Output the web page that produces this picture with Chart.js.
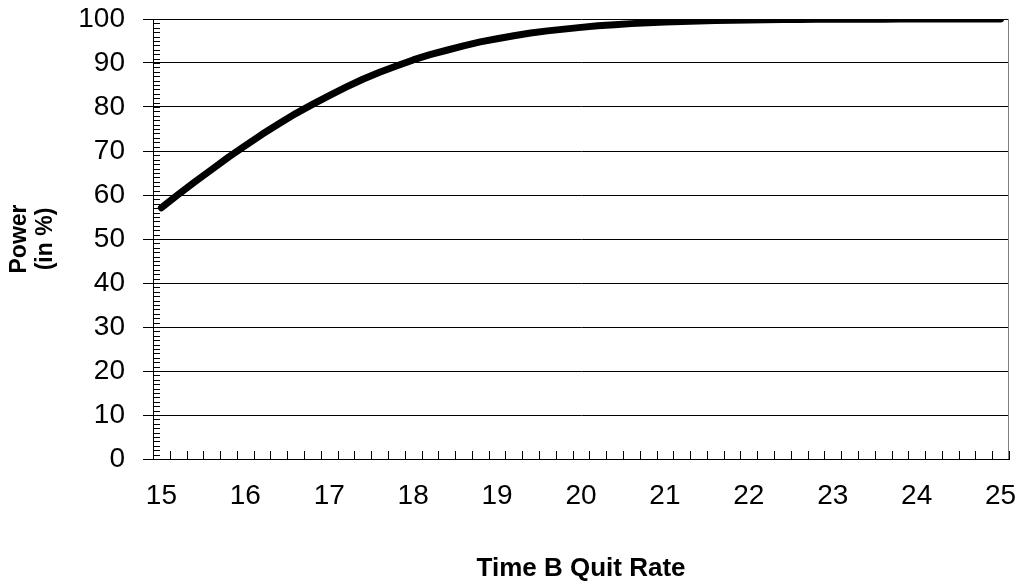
<!DOCTYPE html>
<html>
<head>
<meta charset="utf-8">
<script src="https://cdn.jsdelivr.net/npm/chart.js@4.4.1/dist/chart.umd.min.js"></script>
<style>
  html, body { margin: 0; padding: 0; background: #ffffff; }
  #wrap { width: 1023px; height: 586px; }
</style>
</head>
<body>
<div id="wrap"><canvas id="c" width="1023" height="586"></canvas></div>
<script>
// ---- data ----
const quitRates = [
  15.0, 15.2, 15.4, 15.6, 15.8, 16.0, 16.2, 16.4, 16.6, 16.8,
  17.0, 17.2, 17.4, 17.6, 17.8, 18.0, 18.2, 18.4, 18.6, 18.8,
  19.0, 19.2, 19.4, 19.6, 19.8, 20.0, 20.2, 20.4, 20.6, 20.8,
  21.0, 21.2, 21.4, 21.6, 21.8, 22.0, 22.2, 22.4, 22.6, 22.8,
  23.0, 23.2, 23.4, 23.6, 23.8, 24.0, 24.2, 24.4, 24.6, 24.8, 25.0
];
const powerValues = [
  57.1, 60.1, 63.0, 65.8, 68.6, 71.2, 73.8, 76.2, 78.5, 80.6,
  82.6, 84.5, 86.3, 87.9, 89.3, 90.7, 91.9, 92.9, 93.9, 94.8,
  95.5, 96.2, 96.8, 97.3, 97.7, 98.1, 98.45, 98.7, 98.95, 99.14,
  99.3, 99.44, 99.55, 99.64, 99.71, 99.77, 99.82, 99.86, 99.89, 99.92,
  99.94, 99.95, 99.96, 99.97, 99.98, 99.98, 99.99, 99.99, 99.99, 99.99, 100.0
];
const xTickLabels = ["15", "16", "17", "18", "19", "20", "21", "22", "23", "24", "25"];
const yTickValues = [0, 10, 20, 30, 40, 50, 60, 70, 80, 90, 100];
const xTitle = "Time B Quit Rate";
const yTitle = ["Power", "(in %)"];

const FONT = "'Liberation Sans', Arial, sans-serif";

// minor tick marks + right border, drawn through the scales
const minorTicks = {
  id: 'minorTicks',
  beforeDatasetsDraw(chart) {
    const ctx = chart.ctx;
    const xs = chart.scales.x;
    const ys = chart.scales.y;
    const area = chart.chartArea;
    ctx.save();
    ctx.strokeStyle = '#000000';
    ctx.lineWidth = 1;
    ctx.beginPath();
    for (let v = ys.min; v <= ys.max; v += 1) {
      const py = Math.round(ys.getPixelForValue(v)) + 0.5;
      ctx.moveTo(area.left, py);
      ctx.lineTo(area.left + 7, py);
    }
    const n = quitRates.length;
    for (let i = 0; i <= n; i++) {
      const px = Math.round(xs.getPixelForValue(i - 0.5)) + 0.5;
      ctx.moveTo(px, area.bottom);
      ctx.lineTo(px, area.bottom - 8);
    }
    ctx.stroke();
    ctx.strokeStyle = '#808080';
    ctx.beginPath();
    const rx = Math.round(area.right) - 0.5;
    ctx.moveTo(rx, area.top);
    ctx.lineTo(rx, area.bottom);
    ctx.stroke();
    ctx.restore();
  }
};

new Chart(document.getElementById('c'), {
  type: 'line',
  data: {
    labels: quitRates.map(v => v.toFixed(1)),
    datasets: [{
      data: powerValues,
      borderColor: '#000000',
      borderWidth: 7,
      borderCapStyle: 'round',
      borderJoinStyle: 'round',
      pointRadius: 0,
      tension: 0,
      fill: false
    }]
  },
  options: {
    responsive: false,
    animation: false,
    devicePixelRatio: 1,
    layout: { padding: { top: 19, right: 14, left: 0, bottom: 0 } },
    plugins: { legend: { display: false }, tooltip: { enabled: false } },
    scales: {
      x: {
        type: 'category',
        offset: true,
        grid: { display: true, drawOnChartArea: false, drawTicks: false, offset: true },
        border: { display: true, color: '#000000', width: 1 },
        ticks: {
          autoSkip: false,
          maxRotation: 0,
          minRotation: 0,
          padding: 20,
          color: '#000000',
          font: { family: FONT, size: 28 },
          callback: function (val, idx) {
            const v = quitRates[idx];
            const lab = String(Math.round(v));
            return (Math.abs(v - Math.round(v)) < 1e-6 && xTickLabels.includes(lab)) ? lab : '';
          }
        },
        title: {
          display: true,
          text: xTitle,
          color: '#000000',
          font: { family: FONT, size: 26, weight: 'bold', lineHeight: 1.15 },
          padding: { top: 0, bottom: 2 }
        },
        afterFit(scale) {
          scale.height = 127;
          scale.paddingLeft = 0;
          scale.paddingRight = 0;
        }
      },
      y: {
        type: 'linear',
        min: 0,
        max: 100,
        afterBuildTicks(scale) { scale.ticks = yTickValues.map(v => ({ value: v })); },
        grid: { color: '#000000', lineWidth: 1, drawTicks: true, tickLength: 10, tickColor: '#000000' },
        border: { display: true, color: '#000000', width: 1 },
        ticks: {
          padding: 18,
          color: '#000000',
          font: { family: FONT, size: 28 }
        },
        title: {
          display: true,
          text: yTitle,
          color: '#000000',
          font: { family: FONT, size: 23, weight: 'bold', lineHeight: 1.15 },
          padding: { top: 6, bottom: 0 }
        },
        afterFit(scale) {
          scale.width = 153;
          scale.paddingTop = 0;
          scale.paddingBottom = 0;
        }
      }
    }
  },
  plugins: [minorTicks]
});
</script>
</body>
</html>
